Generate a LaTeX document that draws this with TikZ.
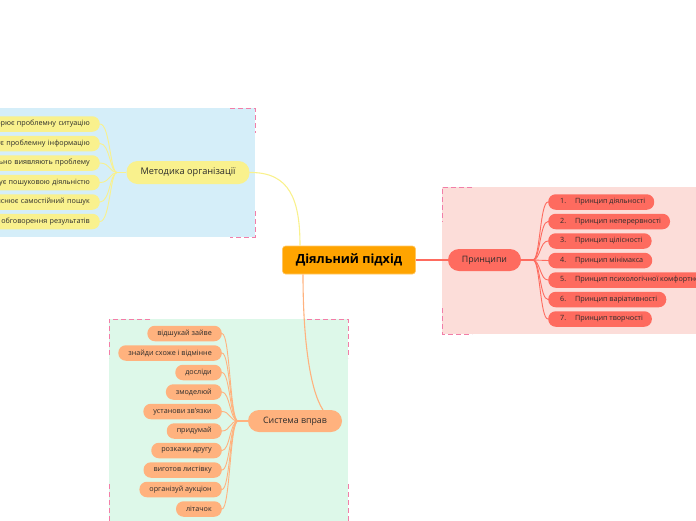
\documentclass[tikz,border=0pt]{standalone}
\usepackage{fontspec}
\setmainfont{Open Sans}
\definecolor{bgblue}{HTML}{D5EEF9}
\definecolor{bgpink}{HTML}{FCDDD9}
\definecolor{bggreen}{HTML}{DDF8E9}
\definecolor{cyel}{HTML}{F9F18D}
\definecolor{cred}{HTML}{FE6B5F}
\definecolor{cpeach}{HTML}{FFB27E}
\definecolor{corange}{HTML}{FFA400}
\definecolor{cdash}{HTML}{F27EA8}
\definecolor{ctext}{HTML}{2B2B2B}
\tikzset{
  pill/.style={rounded corners=#1, inner ysep=0pt, text=ctext},
  mainpill/.style={pill=11pt, minimum height=22pt, font=\fontsize{8.8}{10}\selectfont},
  childpill/.style={pill=7.5pt, minimum height=15.5pt, inner xsep=10pt, font=\fontsize{7.2}{8}\selectfont},
  dashbox/.style={draw=cdash, dashed, dash pattern=on 5pt off 3pt, line width=0.9pt},
  yline/.style={draw=cyel, line width=1.1pt},
  rline/.style={draw=cred, line width=1.1pt},
  pline/.style={draw=cpeach, line width=1.1pt},
}
\begin{document}
\begin{tikzpicture}[x=1pt,y=-1pt]
\useasboundingbox (0,0) rectangle (696,520);
% backgrounds
\fill[bgblue] (-10,108) rectangle (255,237);
\fill[bgpink] (442,187) rectangle (710,334);
\fill[bggreen] (109,319) rectangle (348,530);
% dashed corners
\draw[dashbox] (230,108) -- (255,108) -- (255,133);
\draw[dashbox] (255,211) -- (255,237) -- (230,237);
\draw[dashbox] (472,187) -- (442,187) -- (442,222);
\draw[dashbox] (442,308) -- (442,334) -- (472,334);
\draw[dashbox] (150,319) -- (109,319) -- (109,358);
\draw[dashbox] (109,484) -- (109,525);
\draw[dashbox] (307,319) -- (348,319) -- (348,358);
\draw[dashbox] (348,484) -- (348,525);

% central
\node[draw=corange!60!white, line width=0.6pt, fill=corange, rounded corners=3pt, minimum width=133pt, minimum height=28pt, font=\fontsize{12.6}{14}\selectfont\bfseries, text=black] (root) at (349,260) {Діяльний підхід};

% main topics
\node[mainpill, fill=cyel, minimum width=123pt, minimum height=23pt, font=\fontsize{9.2}{10}\selectfont] (met) at (188,172.5) {Методика організації};
\node[mainpill, fill=cred, minimum width=73pt] (pri) at (484.5,260) {Принципи};
\node[mainpill, fill=cpeach, minimum width=94pt] (sys) at (295,421) {Система вправ};

% main connectors
\draw[yline] (met.east) .. controls (290,172) and (300,200) .. (root.north west -| 300,246);
\draw[rline] (root.east) -- (pri.west);
\draw[pline] (root.south -| 303,274) .. controls (303,340) and (310,390) .. (323,410);

% Методика children
\coordinate (mj) at (117,172.5);
\draw[yline] (met.west) -- (mj);
\foreach \t/\y [count=\i] in {{орює проблемну ситуацію}/124, {ує проблемну інформацію}/143.5, {льно виявляють проблему}/163, {ує пошуковою діяльністю}/182.5, {йснює самостійний пошук}/202, {обговорення результатів}/221.5}{
  \node[childpill, fill=cyel, anchor=east, text width=110pt, align=right] (m\i) at (100,\y) {\t};
  \draw[yline, line width=0.9pt] (mj) .. controls (110,172.5) and (110,\y) .. (m\i.east);
}

% Принципи children
\coordinate (pj) at (533,260);
\draw[rline] (pri.east) -- (pj);
\foreach \t/\y [count=\i] in {{Принцип діяльності}/202, {Принцип неперервності}/221.5, {Принцип цілісності}/241, {Принцип мінімакса}/260.5, {Принцип психологічної комфортності}/280, {Принцип варіативності}/299.5, {Принцип творчості}/319}{
  \node[childpill, fill=cred, anchor=west, inner xsep=0pt] (p\i) at (548,\y) {\kern12pt\makebox[15pt][l]{\i.}\t\kern9pt\null};
  \draw[rline, line width=0.9pt] (pj) .. controls (540,260) and (540,\y) .. (p\i.west);
}

% Система вправ children
\coordinate (sj) at (238,421);
\draw[pline] (sys.west) -- (sj);
\foreach \t/\y [count=\i] in {{відшукай зайве}/333.5, {знайди схоже і відмінне}/353, {досліди}/372.5, {змоделюй}/392, {установи зв'язки}/411.5, {придумай}/431, {розкажи другу}/450.5, {виготов листівку}/470, {організуй аукціон}/489.5, {літачок}/509}{
  \node[childpill, fill=cpeach, anchor=east] (s\i) at (222,\y) {\t};
  \draw[pline, line width=0.9pt] (sj) .. controls (230,421) and (230,\y) .. (s\i.east);
}
\end{tikzpicture}
\end{document}
